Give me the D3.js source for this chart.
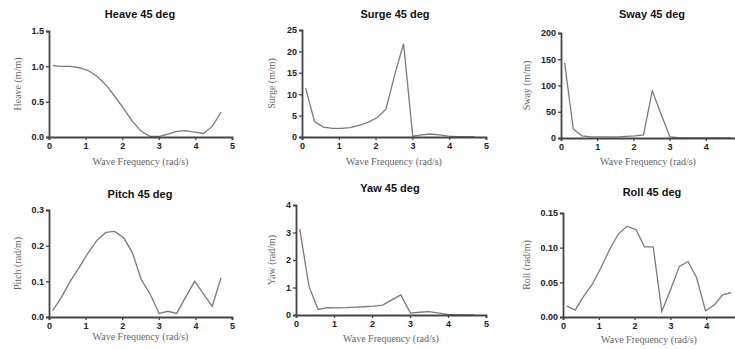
<!DOCTYPE html>
<html>
<head>
<meta charset="utf-8">
<script src="https://cdn.jsdelivr.net/npm/d3@7"></script>
<style>
  body { margin: 0; background: #fff; }
  svg { display: block; }
  .title { font: bold 11px "Liberation Sans", Arial, sans-serif; fill: #111; }
  .tick text { font: bold 9px "Liberation Sans", Arial, sans-serif; fill: #222; }
  .lab { font: 10px "Liberation Serif", "Times New Roman", serif; fill: #666; }
</style>
</head>
<body>
<div id="chart"></div>
<script>
// wave frequencies (rad/s)
var freq = [0.10, 0.34, 0.58, 0.83, 1.07, 1.31, 1.55, 1.79, 2.04, 2.28,
            2.52, 2.76, 3.01, 3.25, 3.49, 3.73, 3.98, 4.22, 4.46, 4.70];

var heave = [1.01, 1.00, 1.00, 0.98, 0.94, 0.86, 0.74, 0.58, 0.40, 0.22,
             0.08, 0.01, 0.01, 0.04, 0.08, 0.09, 0.07, 0.05, 0.15, 0.35];
var surge = [11.4, 3.6, 2.3, 2.0, 2.0, 2.2, 2.7, 3.4, 4.5, 6.5,
             14.5, 21.8, 0.2, 0.5, 0.7, 0.5, 0.2, 0.1, 0.1, 0.0];
var sway  = [143, 17, 4, 2, 2, 2, 2, 3, 4, 6,
             90, 46, 2, 0.5, 0.3, 0.2, 0.1, 0.1, 0.1, 0.1];
var pitch = [0.018, 0.055, 0.100, 0.140, 0.180, 0.215, 0.237, 0.240, 0.222, 0.180,
             0.105, 0.065, 0.010, 0.016, 0.010, 0.055, 0.100, 0.065, 0.030, 0.110];
var yaw   = [3.12, 1.05, 0.20, 0.27, 0.26, 0.27, 0.29, 0.30, 0.32, 0.36,
             0.55, 0.73, 0.07, 0.10, 0.12, 0.08, 0.02, 0.01, 0.0, 0.0];
var roll  = [0.016, 0.010, 0.030, 0.048, 0.072, 0.098, 0.120, 0.131, 0.126, 0.101,
             0.101, 0.008, 0.040, 0.073, 0.080, 0.057, 0.009, 0.017, 0.032, 0.035];

var titles  = ["Heave 45 deg", "Surge 45 deg", "Sway 45 deg", "Pitch 45 deg", "Yaw 45 deg", "Roll 45 deg"];
var ylabels = ["Heave (m/m)", "Surge (m/m)", "Sway (m/m)", "Pitch (rad/m)", "Yaw (rad/m)", "Roll (rad/m)"];
var ymax    = [1.5, 25, 200, 0.3, 4, 0.15];
var ystep   = [0.5, 5, 50, 0.1, 1, 0.05];
var yfmt    = [".1f", "d", "d", ".1f", "d", ".2f"];
var xticksFull = [0, 1, 2, 3, 4, 5];
var xticksCut  = [0, 1, 2, 3, 4];   // right-hand panels run off the page edge

var series = [heave, surge, sway, pitch, yaw, roll];

// panel placement (pixels)
var boxes = [
  {x0: 49,  x1: 232, y0: 137, y1: 31,  lx: 21,  tx: 140, ty: 18, xl: 165},
  {x0: 302, x1: 486, y0: 137, y1: 30,  lx: 275, tx: 395, ty: 18, xl: 165},
  {x0: 561, x1: 742, y0: 138, y1: 33,  lx: 530, tx: 652, ty: 18, xl: 165},
  {x0: 49,  x1: 232, y0: 317, y1: 210, lx: 21,  tx: 140, ty: 198, xl: 340},
  {x0: 296, x1: 486, y0: 315, y1: 205, lx: 275, tx: 390, ty: 192, xl: 342},
  {x0: 563, x1: 742, y0: 317, y1: 213, lx: 530, tx: 652, ty: 196, xl: 343}
];

var svg = d3.select("#chart").append("svg")
    .attr("width", 735)
    .attr("height", 349);

boxes.forEach(function(b, i) {
  var x = d3.scaleLinear().domain([0, 5]).range([b.x0, b.x1]);
  var y = d3.scaleLinear().domain([0, ymax[i]]).range([b.y0, b.y1]);
  var yt = d3.range(0, ymax[i] + ystep[i] / 2, ystep[i]);

  var g = svg.append("g");

  var line = d3.line()
      .x(function(d) { return x(d[0]); })
      .y(function(d) { return y(d[1]); });

  g.append("path")
      .attr("d", line(d3.zip(freq, series[i])))
      .attr("fill", "none")
      .attr("stroke", "#7a7a7a")
      .attr("stroke-width", 1.3);

  var xa = g.append("g")
      .attr("transform", "translate(0," + b.y0 + ")")
      .call(d3.axisBottom(x).tickValues(b.x1 > 735 ? xticksCut : xticksFull)
            .tickFormat(d3.format("d")).tickSize(3).tickPadding(3));
  var ya = g.append("g")
      .attr("transform", "translate(" + b.x0 + ",0)")
      .call(d3.axisLeft(y).tickValues(yt).tickFormat(d3.format(yfmt[i])).tickSize(3).tickPadding(2));

  [xa, ya].forEach(function(a) {
    a.select(".domain").attr("stroke", "#444").attr("stroke-width", 1.8);
    a.selectAll(".tick line").attr("stroke", "#444").attr("stroke-width", 1.3);
  });

  g.append("text")
      .attr("class", "title")
      .attr("x", b.tx)
      .attr("y", b.ty)
      .attr("text-anchor", "middle")
      .text(titles[i]);

  g.append("text")
      .attr("class", "lab")
      .attr("x", (b.x0 + Math.min(b.x1, 735)) / 2)
      .attr("y", b.xl)
      .attr("text-anchor", "middle")
      .text("Wave Frequency (rad/s)");

  g.append("text")
      .attr("class", "lab")
      .attr("transform", "translate(" + b.lx + "," + (b.y0 + b.y1) / 2 + ") rotate(-90)")
      .attr("text-anchor", "middle")
      .text(ylabels[i]);
});
</script>
</body>
</html>
